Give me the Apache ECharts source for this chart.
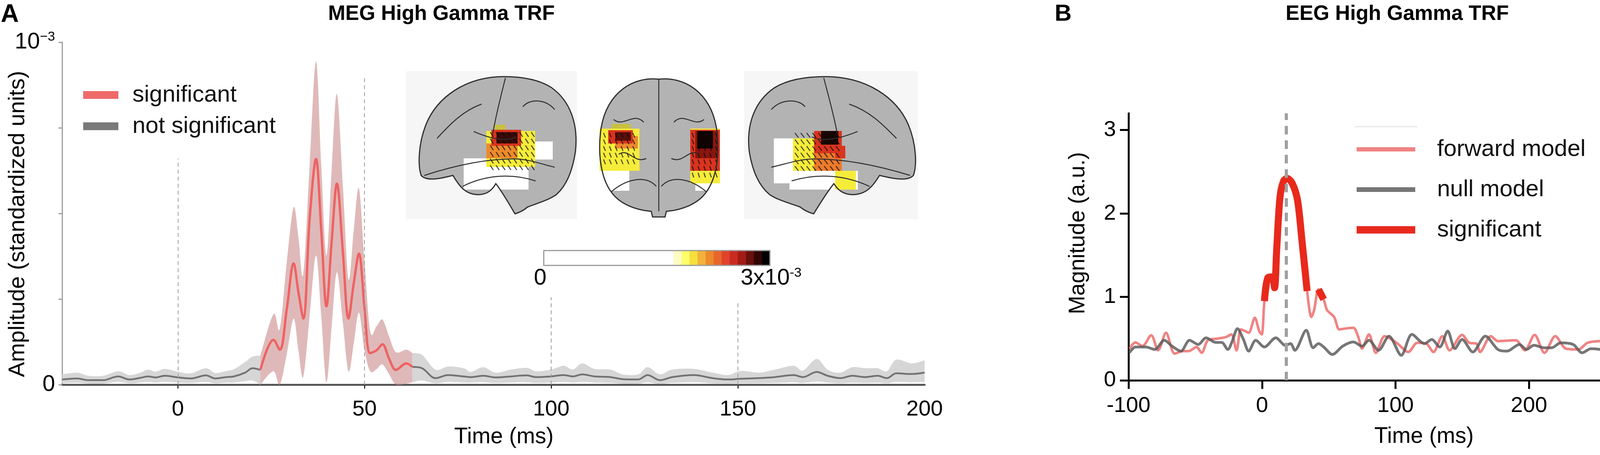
<!DOCTYPE html>
<html>
<head>
<meta charset="utf-8">
<script src="https://cdn.jsdelivr.net/npm/echarts@6/dist/echarts.min.js"></script>
<style>
html,body{margin:0;padding:0;background:#fff;}
#c{width:4317px;height:1164px;}
</style>
</head>
<body>
<div id="c"></div>
<script>
// ================= DATA =================
// Panel A: MEG high gamma TRF (amplitude in units of 1e-3)
const megTime = [-31, -27, -24, -20, -16, -13, -10, -8, -6, -3.5, 0, 3.5, 7.5, 10, 13, 15, 18, 20, 22.1,
  25.6, 27.3, 29.2, 31.0, 32.3, 33.6, 35.3, 37.0, 38.4, 39.8, 41.2, 42.6, 44.2, 45.7, 47.1, 48.5, 50.0, 51.5, 53.2, 54.8, 56.6, 58.4, 61.2, 62.8,
  65.4, 69, 72.4, 76.5, 78.5, 81.8, 85.1, 89.2, 93.4, 95.9, 100, 103.3, 105.8, 108.3, 111.6, 115.8, 119.1, 123.3, 125.8, 129.1,
  132.4, 138.2, 143.2, 147.4, 150.7, 155.7, 159.9, 164.9, 167.4, 171.1, 174, 177.4, 180.7, 184, 187.4, 189.9, 192.4, 196.5, 200];
const megMean = [0.015, 0.018, 0.013, 0.013, 0.024, 0.015, 0.020, 0.024, 0.021, 0.026, 0.021, 0.018, 0.027, 0.018, 0.022, 0.024, 0.035, 0.048, 0.043,
  0.131, 0.102, 0.223, 0.354, 0.269, 0.193, 0.485, 0.659, 0.452, 0.229, 0.419, 0.587, 0.387, 0.193, 0.295, 0.383, 0.223, 0.092, 0.100, 0.118, 0.075, 0.043, 0.062, 0.052,
  0.048, 0.019, 0.028, 0.024, 0.022, 0.026, 0.021, 0.024, 0.027, 0.022, 0.024, 0.028, 0.024, 0.030, 0.024, 0.022, 0.016, 0.015, 0.028, 0.013,
  0.022, 0.028, 0.019, 0.015, 0.017, 0.019, 0.022, 0.028, 0.022, 0.037, 0.026, 0.019, 0.026, 0.022, 0.026, 0.019, 0.033, 0.031, 0.035];
const megUpper = [0.030, 0.035, 0.026, 0.026, 0.039, 0.028, 0.035, 0.044, 0.038, 0.046, 0.038, 0.033, 0.048, 0.034, 0.040, 0.045, 0.066, 0.082, 0.085,
  0.206, 0.164, 0.36, 0.518, 0.43, 0.324, 0.642, 0.944, 0.642, 0.377, 0.63, 0.849, 0.58, 0.308, 0.45, 0.573, 0.36, 0.157, 0.17, 0.19, 0.14, 0.095, 0.102, 0.092,
  0.087, 0.044, 0.053, 0.048, 0.037, 0.051, 0.035, 0.044, 0.049, 0.039, 0.044, 0.055, 0.044, 0.062, 0.046, 0.044, 0.030, 0.030, 0.051, 0.030,
  0.044, 0.046, 0.035, 0.028, 0.040, 0.035, 0.044, 0.055, 0.041, 0.075, 0.044, 0.035, 0.051, 0.048, 0.048, 0.039, 0.073, 0.062, 0.071];
const megLower = [0.004, 0.005, 0.003, 0.003, 0.008, 0.004, 0.006, 0.008, 0.006, 0.008, 0.006, 0.005, 0.008, 0.004, 0.006, 0.006, 0.010, 0.012, 0.000,
  0.039, 0.0, 0.09, 0.193, 0.10, 0.023, 0.20, 0.377, 0.20, 0.007, 0.17, 0.328, 0.18, 0.039, 0.12, 0.210, 0.10, 0.039, 0.045, 0.059, 0.03, 0.0, 0.003, 0.007,
  0.012, 0.004, 0.008, 0.006, 0.006, 0.007, 0.005, 0.006, 0.007, 0.005, 0.006, 0.008, 0.006, 0.008, 0.006, 0.005, 0.003, 0.003, 0.007, 0.002,
  0.005, 0.007, 0.004, 0.003, 0.004, 0.004, 0.005, 0.007, 0.005, 0.009, 0.006, 0.004, 0.006, 0.005, 0.006, 0.004, 0.008, 0.007, 0.008];
const megSigWindow = [22.1, 62.8];
const megXTicks = [0, 50, 100, 150, 200];
const megXTickMarks = [0, 50, 100, 150];
const megYTicks = [0, 0.25, 0.5, 0.75, 1];   // x 1e-3
const megYLabels = [0, 1];                    // x 1e-3
const megGuides = [[0, 0.66], [50, 0.90], [100, 0.255], [150, 0.24]]; // [time, top (x 1e-3)]
const megLegend = ['significant', 'not significant'];

// Panel B: EEG high gamma TRF
const fwdTime = [-99.3, -94.8, -89.6, -83, -77.8, -71.9, -65.4, -59.5, -55, -49.1, -45.2, -40.6, -33.4, -26.9, -23, -19.1, -15.8, -12.6, -10, -5.4,
  -2.1, -0.2, 1.8, 4.4, 7.7, 9.4, 11, 13.5, 16.2, 18.8, 22.7, 26.6, 29.9, 33.8, 37, 39, 42.3, 46.2, 48.8, 54,
  57.9, 61.8, 68.4, 72.3, 74.9, 80.1, 85.3, 91.8, 96.2, 101.6, 109.6, 116.3, 123, 128.4, 135.1, 140.5, 149.9, 155.3, 160.6, 163.3,
  171.4, 176.7, 190.1, 196.9, 204.2, 211.6, 219.7, 227.7, 237.1, 243.8, 254.6, 262.6, 269.3, 277.4, 285.4, 290.8, 294.8, 299.5];
const fwdVal = [0.38, 0.455, 0.41, 0.54, 0.36, 0.57, 0.32, 0.35, 0.35, 0.40, 0.33, 0.48, 0.50, 0.52, 0.55, 0.36, 0.61, 0.59, 0.57, 0.75,
  0.59, 0.55, 0.95, 1.23, 1.24, 1.11, 1.57, 2.20, 2.39, 2.42, 2.36, 2.16, 1.68, 1.07, 0.76, 0.84, 1.09, 0.97, 0.84, 0.76,
  0.61, 0.62, 0.63, 0.51, 0.38, 0.55, 0.33, 0.53, 0.50, 0.44, 0.34, 0.45, 0.44, 0.34, 0.53, 0.36, 0.545, 0.45, 0.44, 0.34,
  0.53, 0.47, 0.48, 0.36, 0.545, 0.33, 0.53, 0.38, 0.37, 0.45, 0.47, 0.45, 0.405, 0.30, 0.53, 0.39, 0.44, 0.31];
const nullTime = [-99.3, -94.8, -87, -80.4, -73.2, -67.4, -60.8, -54.3, -47.8, -41.9, -34.7, -30.2, -25.6, -22.3, -18.4, -13.9, -10, -4.7, 1.8, 10.3,
  17.5, 21.4, 24.6, 33.1, 38.3, 42.3, 46.2, 52.7, 60.5, 68.4, 74.9, 80.1, 87.3, 95.1, 104.3, 112.3, 121.7, 127.1, 133.1, 139.1,
  144.5, 149.9, 157.9, 167.3, 176.7, 183.4, 192.8, 198.2, 203.6, 211.6, 217, 223.7, 233.1, 239.8, 246.5, 253.2, 261.3, 268, 277.4, 284.1,
  293.5, 298.2];
const nullVal = [0.33, 0.40, 0.40, 0.37, 0.48, 0.41, 0.35, 0.48, 0.43, 0.51, 0.455, 0.455, 0.37, 0.47, 0.62, 0.49, 0.35, 0.48, 0.40, 0.51,
  0.42, 0.44, 0.36, 0.60, 0.39, 0.44, 0.40, 0.31, 0.41, 0.46, 0.41, 0.48, 0.36, 0.53, 0.30, 0.55, 0.44, 0.49, 0.40, 0.59,
  0.38, 0.49, 0.34, 0.53, 0.37, 0.35, 0.43, 0.37, 0.42, 0.39, 0.39, 0.45, 0.43, 0.33, 0.38, 0.37, 0.33, 0.43, 0.33, 0.38,
  0.37, 0.40];
const eegSigWindows = [[1.8, 33.8], [42.3, 46.2]];
const eegPeakTime = 18;
const eegXTicks = [-100, 0, 100, 200, 300];
const eegYTicks = [0, 1, 2, 3];
const eegLegend = ['forward model', 'null model', 'significant'];

// Colour bar (inset)
const cbarColors = ['#fffbc4', '#ffff6a', '#f6e03c', '#f2b23a', '#ec8a2c', '#e6662a', '#e0422a', '#c92b22', '#a31c16', '#6a100c', '#320604', '#000000'];

// ================= RENDER =================
const FONT = "'Liberation Sans', Arial, Helvetica, sans-serif";
const S = 1e-3;
const chart = echarts.init(document.getElementById('c'), null, {renderer: 'canvas', width: 4317, height: 1164});

function idxIn(lo, hi) {
  const r = [];
  megTime.forEach((t, i) => { if (t >= lo - 1e-9 && t <= hi + 1e-9) r.push(i); });
  return r;
}
const preIdx = idxIn(-Infinity, megSigWindow[0]);
const sigIdx = idxIn(megSigWindow[0], megSigWindow[1]);
const postIdx = idxIn(megSigWindow[1], Infinity);

function crPath(pts) {
  let d = '';
  for (let i = 0; i < pts.length - 1; i++) {
    const p0 = pts[i - 1] || pts[i], p1 = pts[i], p2 = pts[i + 1], p3 = pts[i + 2] || pts[i + 1];
    const c1 = [p1[0] + (p2[0] - p0[0]) / 6, p1[1] + (p2[1] - p0[1]) / 6];
    const c2 = [p2[0] - (p3[0] - p1[0]) / 6, p2[1] - (p3[1] - p1[1]) / 6];
    d += ' C' + c1[0].toFixed(1) + ',' + c1[1].toFixed(1) + ' ' + c2[0].toFixed(1) + ',' + c2[1].toFixed(1) + ' ' + p2[0].toFixed(1) + ',' + p2[1].toFixed(1);
  }
  return d;
}

function bandSeries(idx, color) {
  return {
    type: 'custom', xAxisIndex: 0, yAxisIndex: 0, silent: true, z: 1,
    data: [[megTime[idx[0]], 0]],
    renderItem: function (params, api) {
      const up = idx.map(i => api.coord([megTime[i], megUpper[i] * S]));
      const lo = idx.map(i => api.coord([megTime[i], megLower[i] * S])).reverse();
      let d = 'M' + up[0][0].toFixed(1) + ',' + up[0][1].toFixed(1) + crPath(up);
      d += ' L' + lo[0][0].toFixed(1) + ',' + lo[0][1].toFixed(1) + crPath(lo) + ' Z';
      return {type: 'path', shape: {pathData: d}, style: {fill: color}};
    }
  };
}

function lineData(idx) { return idx.map(i => [megTime[i], megMean[i] * S]); }

const megSeries = [
  bandSeries(preIdx, '#d6d6d6'),
  bandSeries(postIdx, '#d6d6d6'),
  bandSeries(sigIdx, 'rgba(196,128,128,0.55)'),
  {name: megLegend[1], type: 'line', xAxisIndex: 0, yAxisIndex: 0, data: lineData(preIdx), symbol: 'none', smooth: 0.35,
   lineStyle: {color: '#727272', width: 4.5}, itemStyle: {color: '#727272'}, z: 3},
  {name: megLegend[1], type: 'line', xAxisIndex: 0, yAxisIndex: 0, data: lineData(postIdx), symbol: 'none', smooth: 0.35,
   lineStyle: {color: '#727272', width: 4.5}, itemStyle: {color: '#727272'}, z: 3},
  {name: megLegend[0], type: 'line', xAxisIndex: 0, yAxisIndex: 0, data: lineData(sigIdx), symbol: 'none', smooth: 0.35,
   lineStyle: {color: '#ef6262', width: 6}, itemStyle: {color: '#ef6262'}, z: 4,
   markLine: {silent: true, symbol: ['none', 'none'], label: {show: false}, animation: false,
     lineStyle: {type: [10, 8], color: '#9c9c9c', width: 2},
     data: megGuides.map(g => [{coord: [g[0], 0]}, {coord: [g[0], g[1] * S]}])}}
];

function inWin(t, w) { return t >= w[0] - 1e-9 && t <= w[1] + 1e-9; }
const eegSeries = [
  {name: eegLegend[0], type: 'line', xAxisIndex: 1, yAxisIndex: 1, data: fwdTime.map((t, i) => [t, fwdVal[i]]), symbol: 'none', smooth: 0.3,
   lineStyle: {color: 'rgba(236,100,100,0.8)', width: 6.5}, itemStyle: {color: 'rgba(236,100,100,0.8)'}, z: 3},
  {name: eegLegend[1], type: 'line', xAxisIndex: 1, yAxisIndex: 1, data: nullTime.map((t, i) => [t, nullVal[i]]), symbol: 'none', smooth: 0.3,
   lineStyle: {color: 'rgba(88,88,88,0.82)', width: 7}, itemStyle: {color: 'rgba(88,88,88,0.82)'}, z: 3}
].concat(eegSigWindows.map((w, k) => ({
  name: eegLegend[2], type: 'line', xAxisIndex: 1, yAxisIndex: 1,
  data: fwdTime.map((t, i) => [t, fwdVal[i]]).filter(p => inWin(p[0], w)), symbol: 'none', smooth: 0.3,
  lineStyle: {color: '#e8291c', width: 18, cap: 'butt'}, itemStyle: {color: '#e8291c'}, z: 4,
  markLine: k === 0 ? {silent: true, symbol: ['none', 'none'], label: {show: false}, animation: false,
    lineStyle: {type: [22, 15], color: '#a0a0a0', width: 8}, data: [{xAxis: eegPeakTime}]} : undefined
})));

// ---------- inset illustration (brains + colour bar), drawn by a custom series ----------
const brainL = 'M54,0 C30,0 12,15 5,35 C0,50 0,65 2,72 C5,76 12,75 22,72 C26,80 30,86 38,86 C44,86 47,82 49,78 C53,84 57,92 61,100 C64,99 67,97 69,95 C76,92 82,90 87,86 C93,80 97,70 99,55 C101,35 96,18 84,8 C76,2 65,0 54,0 Z';
const brainLLines = ['M4,72 C20,66 40,60 60,60 C70,60 78,64 86,66', 'M55,1 C52,15 49,28 47,42', 'M12,45 C20,35 28,25 40,20',
  'M66,22 C70,16 80,16 86,24', 'M28,80 C42,72 58,70 74,76', 'M35,40 C45,45 55,48 62,44'];
const brainM = 'M50,1 C30,-1 9,10 4,36 C1,55 4,72 12,82 C19,91 32,95 44,96 L45,100 L55,100 L56,96 C68,95 81,91 88,82 C96,72 99,55 96,36 C91,10 70,-1 50,1 Z';
const brainMLines = ['M50,1 L50,96', 'M12,82 C25,72 40,70 48,78', 'M52,78 C60,70 75,72 88,82', 'M14,30 C22,36 30,24 38,32',
  'M86,30 C78,36 70,24 62,32', 'M18,55 C26,50 30,62 40,58', 'M82,55 C74,50 70,62 60,58'];

function mapPath(d, x0, y0, w, h, mirror) {
  return d.replace(/(-?\d+(?:\.\d+)?),(-?\d+(?:\.\d+)?)/g, function (m, a, b) {
    let X = parseFloat(a), Y = parseFloat(b);
    if (mirror) X = 100 - X;
    return (x0 + X / 100 * w).toFixed(1) + ',' + (y0 + Y / 100 * h).toFixed(1);
  });
}
const inset = [];
function addRect(x, y, w, h, fill) { inset.push({type: 'rect', shape: {x: x, y: y, width: w, height: h}, style: {fill: fill}}); }
function addHatch(x0, y0, w, h, dx, dy) {
  let d = '';
  for (let y = y0; y < y0 + h - 8; y += 17) {
    for (let x = x0; x < x0 + w - 6; x += 15) {
      d += 'M' + x + ',' + y + ' l' + dx + ',' + dy + ' ';
    }
  }
  inset.push({type: 'path', shape: {pathData: d}, style: {fill: 'none', stroke: 'rgba(10,10,10,0.75)', lineWidth: 2.5}});
}
function addBrain(outline, lines, x0, y0, w, h, mirror, blobs, hatch) {
  inset.push({type: 'path', shape: {pathData: mapPath(outline, x0, y0, w, h, mirror)}, style: {fill: '#b3b3b3'}});
  blobs.forEach(b => addRect(b[0], b[1], b[2], b[3], b[4]));
  hatch.forEach(hh => addHatch(hh[0], hh[1], hh[2], hh[3], hh[4], hh[5]));
  inset.push({type: 'path', shape: {pathData: mapPath(outline, x0, y0, w, h, mirror)}, style: {fill: 'none', stroke: '#2e2e2e', lineWidth: 3}});
  lines.forEach(l => inset.push({type: 'path', shape: {pathData: mapPath(l, x0, y0, w, h, mirror)}, style: {fill: 'none', stroke: '#2e2e2e', lineWidth: 2.5}}));
}
addRect(1039, 182, 438, 379, '#f6f6f6');
addRect(1905, 182, 445, 379, '#f6f6f6');
addBrain(brainL, brainLLines, 1070, 196, 407, 351, false, [
  [1343, 362, 72, 46, '#ffffff'], [1187, 405, 166, 80, '#ffffff'],
  [1245, 335, 125, 92, '#f5ec3a'], [1245, 367, 80, 38, '#ec8a2c'], [1258, 332, 76, 41, '#d8341e'],
  [1271, 338, 54, 29, '#3a0a06'], [1267, 319, 27, 13, '#c8c040']],
  [[1255, 338, 120, 95, 8, 12]]);
addBrain(brainM, brainMLines, 1526, 199, 321, 356, false, [
  [1530, 431, 81, 57, '#ffffff'], [1535, 329, 102, 108, '#f5ec3a'], [1575, 348, 58, 32, '#ec8a2c'],
  [1557, 333, 63, 34, '#d8341e'], [1575, 338, 40, 22, '#5a0e08'], [1566, 317, 49, 12, '#c8c040'],
  [1780, 450, 45, 38, '#ffffff'], [1767, 329, 76, 140, '#f5ec3a'], [1767, 332, 76, 105, '#d8341e'],
  [1780, 335, 58, 70, '#8a160e'], [1785, 335, 40, 45, '#100302']],
  [[1545, 340, 85, 90, 5, 12], [1772, 340, 68, 120, 4, 12]]);
addBrain(brainL, brainLLines, 1914, 196, 433, 351, true, [
  [1981, 354, 76, 115, '#ffffff'], [2021, 437, 175, 48, '#ffffff'], [2030, 354, 108, 83, '#f5ec3a'],
  [2138, 437, 53, 48, '#f5ec3a'], [2084, 373, 71, 64, '#ec7a2a'], [2084, 335, 71, 57, '#d8341e'],
  [2138, 373, 26, 32, '#d8341e'], [2102, 335, 44, 35, '#1a0503']],
  [[2035, 340, 125, 110, 9, 12]]);
// colour bar
addRect(1392, 641, 332, 38, '#ffffff');
const cbStep = (1971 - 1724) / cbarColors.length;
cbarColors.forEach((c, i) => addRect(1724 + i * cbStep, 641, cbStep + 0.6, 38, c));
inset.push({type: 'rect', shape: {x: 1392, y: 641, width: 579, height: 38}, style: {fill: 'none', stroke: '#9a9a9a', lineWidth: 3}});
// faint first legend line in panel B
inset.push({type: 'line', shape: {x1: 3468, y1: 324, x2: 3628, y2: 324}, style: {stroke: '#ececec', lineWidth: 4}});

const insetSeries = {
  type: 'custom', coordinateSystem: 'none', silent: true, z: 10, data: [0],
  renderItem: function () { return {type: 'group', children: inset}; }
};

// texts (titles, panel letters, colour-bar labels)
const gfx = [];
gfx.push({type: 'text', x: 1383, y: 712, style: {text: '0', fontSize: 58, fontFamily: FONT, fill: '#000', align: 'center', verticalAlign: 'middle'}, z: 12});
gfx.push({type: 'text', x: 1896, y: 712, style: {text: '{a|3x10}{s|-3}', fontFamily: FONT, fill: '#000', align: 'left', verticalAlign: 'middle',
  rich: {a: {fontSize: 58, fontFamily: FONT, fill: '#000'}, s: {fontSize: 34, fontFamily: FONT, fill: '#000', padding: [0, 0, 26, 0]}}}, z: 12});
gfx.push({type: 'text', x: 2, y: 38, style: {text: 'A', fontSize: 64, fontWeight: 'bold', fontFamily: FONT, fill: '#000', align: 'left', verticalAlign: 'middle'}, z: 20});
gfx.push({type: 'text', x: 2700, y: 36, style: {text: 'B', fontSize: 60, fontWeight: 'bold', fontFamily: FONT, fill: '#000', align: 'left', verticalAlign: 'middle'}, z: 20});
gfx.push({type: 'text', x: 1130, y: 36, style: {text: 'MEG High Gamma TRF', fontSize: 53, fontWeight: 'bold', fontFamily: FONT, fill: '#000', align: 'center', verticalAlign: 'middle'}, z: 20});
gfx.push({type: 'text', x: 3577, y: 36, style: {text: 'EEG High Gamma TRF', fontSize: 53, fontWeight: 'bold', fontFamily: FONT, fill: '#000', align: 'center', verticalAlign: 'middle'}, z: 20});

const lab = {fontFamily: FONT, color: '#000'};
const option = {
  animation: false,
  backgroundColor: '#ffffff',
  textStyle: {fontFamily: FONT},
  grid: [
    {left: 159, top: 108, width: 2208, height: 876, containLabel: false, outerBoundsMode: 'none'},
    {left: 2889, top: 290, width: 1367, height: 683, containLabel: false, outerBoundsMode: 'none'}
  ],
  xAxis: [
    {type: 'value', gridIndex: 0, min: -31, max: 200,
     axisLine: {show: true, onZero: false, lineStyle: {color: '#565656', width: 5}},
     axisTick: {show: true, customValues: megXTickMarks, length: 10, lineStyle: {color: '#333', width: 3}},
     axisLabel: Object.assign({show: true, customValues: megXTicks, fontSize: 56, margin: 36}, lab),
     splitLine: {show: false},
     name: 'Time (ms)', nameLocation: 'middle', nameGap: 106, nameMoveOverlap: false,
     nameTextStyle: Object.assign({fontSize: 57, padding: [0, 0, 0, 54]}, lab)},
    {type: 'value', gridIndex: 1, min: -100, max: 300,
     axisLine: {show: true, onZero: false, lineStyle: {color: '#000', width: 5}},
     axisTick: {show: true, customValues: eegXTicks, length: 22, lineStyle: {color: '#000', width: 5}},
     axisLabel: Object.assign({show: true, customValues: eegXTicks, fontSize: 56, margin: 38}, lab),
     splitLine: {show: false},
     name: 'Time (ms)', nameLocation: 'middle', nameGap: 116, nameMoveOverlap: false,
     nameTextStyle: Object.assign({fontSize: 57, padding: [0, 0, 0, 146]}, lab)}
  ],
  yAxis: [
    {type: 'value', gridIndex: 0, min: 0, max: 1 * S,
     axisLine: {show: true, onZero: false, lineStyle: {color: '#9d9d9d', width: 3}},
     axisTick: {show: true, customValues: megYTicks.map(v => v * S), length: 9, lineStyle: {color: '#9d9d9d', width: 3}},
     axisLabel: Object.assign({show: true, customValues: megYLabels.map(v => v * S), fontSize: 58, margin: 18,
       formatter: function (v) { return v === 0 ? '0' : '{b|10}{s|\u22123}'; },
       rich: {b: {fontSize: 58, fontFamily: FONT, color: '#000'}, s: {fontSize: 34, fontFamily: FONT, color: '#000', padding: [0, 0, 26, 0]}}}, lab),
     splitLine: {show: false},
     name: 'Amplitude (standardized units)', nameLocation: 'middle', nameGap: 84, nameRotate: 90, nameMoveOverlap: false,
     nameTextStyle: Object.assign({fontSize: 58, padding: [0, 54, 0, 0]}, lab)},
    {type: 'value', gridIndex: 1, min: 0, max: 3.2,
     axisLine: {show: true, onZero: false, lineStyle: {color: '#000', width: 5}},
     axisTick: {show: true, customValues: eegYTicks, length: 22, lineStyle: {color: '#000', width: 5}},
     axisLabel: Object.assign({show: true, customValues: eegYTicks, fontSize: 56, margin: 32}, lab),
     splitLine: {show: false},
     name: 'Magnitude (a.u.)', nameLocation: 'middle', nameGap: 100, nameRotate: 90, nameMoveOverlap: false,
     nameTextStyle: Object.assign({fontSize: 57, padding: [0, 0, 0, 70]}, lab)}
  ],
  legend: [
    {data: [{name: megLegend[0], icon: 'rect', itemStyle: {color: '#ee6a6a'}}, {name: megLegend[1], icon: 'rect', itemStyle: {color: '#7a7a7a'}}],
     orient: 'vertical', left: 208, top: 208, itemWidth: 90, itemHeight: 20, itemGap: 20, selectedMode: false,
     textStyle: {fontSize: 60, lineHeight: 60, fontFamily: FONT, color: '#111', padding: [0, 0, 0, 31]}},
    {data: [{name: eegLegend[0], icon: 'rect', itemStyle: {color: 'rgba(236,100,100,0.8)'}}],
     left: 3468, top: 345, itemWidth: 150, itemHeight: 11, selectedMode: false,
     textStyle: {fontSize: 60, lineHeight: 64, fontFamily: FONT, color: '#111', padding: [0, 0, 0, 51]}},
    {data: [{name: eegLegend[1], icon: 'rect', itemStyle: {color: 'rgba(88,88,88,0.82)'}}],
     left: 3468, top: 448, itemWidth: 150, itemHeight: 12, selectedMode: false,
     textStyle: {fontSize: 60, lineHeight: 64, fontFamily: FONT, color: '#111', padding: [0, 0, 0, 51]}},
    {data: [{name: eegLegend[2], icon: 'rect', itemStyle: {color: '#e8291c'}}],
     left: 3468, top: 551, itemWidth: 150, itemHeight: 19, selectedMode: false,
     textStyle: {fontSize: 60, lineHeight: 64, fontFamily: FONT, color: '#111', padding: [0, 0, 0, 51]}}
  ],
  series: [insetSeries].concat(megSeries, eegSeries),
  graphic: {elements: gfx}
};
chart.setOption(option);
</script>
</body>
</html>
